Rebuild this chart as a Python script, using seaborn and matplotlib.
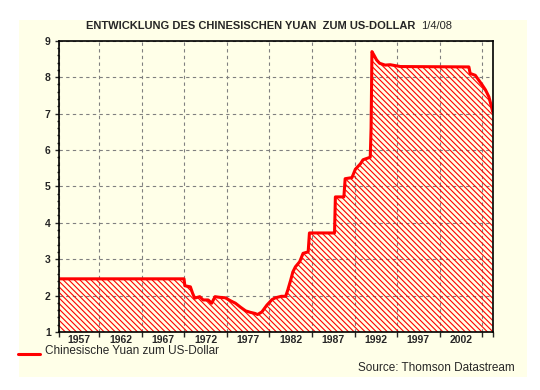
import matplotlib
matplotlib.use('Agg')
import pandas as pd
import matplotlib.pyplot as plt
import seaborn as sns
from matplotlib.patches import Rectangle
from matplotlib.lines import Line2D

# Yuan je US-Dollar (Jahr als Dezimalzahl)
years = [1957.25, 1971.95, 1972.05, 1972.7, 1972.95, 1973.2, 1973.8, 1974.2, 1974.8,
         1975.2, 1975.6, 1976.2, 1976.8, 1977.4, 1978.0, 1978.6, 1979.2, 1979.75,
         1980.3, 1980.6, 1981.1, 1981.7, 1982.3, 1982.7, 1983.4, 1983.9, 1984.15,
         1984.5, 1984.75, 1985.05, 1985.55, 1985.95, 1986.55, 1986.7, 1989.65,
         1989.75, 1990.75, 1990.9, 1991.7, 1992.1, 1992.7, 1993.0, 1993.85, 1993.95,
         1994.05, 1994.25, 1994.6, 1994.95, 1995.6, 1996.2, 1997.4, 2005.45, 2005.6,
         2006.2, 2006.6, 2007.0, 2007.4, 2007.8, 2008.05, 2008.25]
rates = [2.46, 2.46, 2.27, 2.24, 2.07, 1.93, 1.97, 1.88, 1.88,
         1.79, 1.97, 1.95, 1.94, 1.86, 1.79, 1.68, 1.58, 1.54,
         1.51, 1.48, 1.55, 1.74, 1.89, 1.94, 1.98, 1.98, 2.15,
         2.43, 2.65, 2.79, 2.93, 3.16, 3.20, 3.72, 3.72,
         4.71, 4.71, 5.21, 5.24, 5.47, 5.62, 5.73, 5.80, 6.6,
         8.70, 8.62, 8.47, 8.38, 8.33, 8.34, 8.29, 8.28, 8.10,
         8.05, 7.92, 7.79, 7.65, 7.46, 7.24, 7.05]

grid_years = [1962, 1967, 1972, 1977, 1982, 1987, 1992, 1997, 2002, 2007]
year_labels = ['1957', '1962', '1967', '1972', '1977', '1982', '1987', '1992', '1997', '2002']
y_ticks = [1, 2, 3, 4, 5, 6, 7, 8, 9]

cream = '#FFFFE8'
x_start, x_end = 1957.25, 2008.25

sns.set_style('white')
plt.rcParams['font.family'] = ['Liberation Sans', 'DejaVu Sans']
plt.rcParams['hatch.linewidth'] = 0.8
plt.rcParams['hatch.color'] = 'red'

fig = plt.figure(figsize=(5.4, 3.9), dpi=100)
fig.patch.set_facecolor('white')
fig.patches.append(Rectangle((19 / 540, 13 / 390), 508 / 540, 357 / 390,
                             transform=fig.transFigure, facecolor=cream,
                             edgecolor='none', zorder=-1))

ax = fig.add_axes([59 / 540, 1 - 332 / 390, 433.7 / 540, 291.3 / 390])
ax.set_facecolor(cream)

df = pd.DataFrame({'Jahr': years, 'Kurs': rates})
ax.fill_between(df['Jahr'], 1, df['Kurs'], facecolor='none', edgecolor='red',
                hatch='\\' * 6, linewidth=0)
sns.lineplot(data=df, x='Jahr', y='Kurs', color='red', linewidth=2.2, ax=ax,
             legend=False)

ax.set_xlim(x_start, x_end)
ax.set_ylim(1, 9)
ax.set_xlabel('')
ax.set_ylabel('')

# x: Striche an den Intervallgrenzen, Beschriftung in der Intervallmitte
bounds = [x_start] + grid_years + [x_end]
ax.set_xticks(bounds, labels=[''] * len(bounds))
label_pos = [(x_start + 1962) / 2] + [y + 2.5 for y in grid_years[:-1]]
ax.set_xticks(label_pos, labels=year_labels, minor=True, fontweight='bold', fontsize=7.5)
ax.tick_params(axis='x', which='major', direction='out', length=3.5, width=1, bottom=True)
ax.tick_params(axis='x', which='minor', length=0, pad=2)

ax.set_yticks(y_ticks, labels=[str(v) for v in y_ticks], fontweight='bold', fontsize=7.5)
ax.set_yticks([1 + 0.2 * i for i in range(41)], minor=True)
ax.tick_params(axis='y', which='major', direction='out', length=3, width=1, left=True, pad=3)
ax.tick_params(axis='y', which='minor', direction='out', length=1.8, width=1, left=True)

ax.grid(True, which='major', color='#808080', linestyle=(0, (3, 3)), linewidth=0.8)
for s in ax.spines.values():
    s.set_color('black')
    s.set_linewidth(1.2)

fig.text(251 / 540, 1 - 26 / 390, 'ENTWICKLUNG DES CHINESISCHEN YUAN  ZUM US-DOLLAR',
         ha='center', va='center', fontsize=8, fontweight='bold')
fig.text(421 / 540, 1 - 26 / 390, '1/4/08', ha='left', va='center', fontsize=8)

fig.add_artist(Line2D([18 / 540, 40 / 540], [1 - 354 / 390] * 2, color='red',
                      linewidth=2.2, transform=fig.transFigure))
fig.text(45 / 540, 1 - 351 / 390, 'Chinesische Yuan zum US-Dollar', ha='left',
         va='center', fontsize=8.5)
fig.text(515 / 540, 1 - 368 / 390, 'Source: Thomson Datastream', ha='right',
         va='center', fontsize=8.5)

fig.savefig('out.png', dpi=100)
